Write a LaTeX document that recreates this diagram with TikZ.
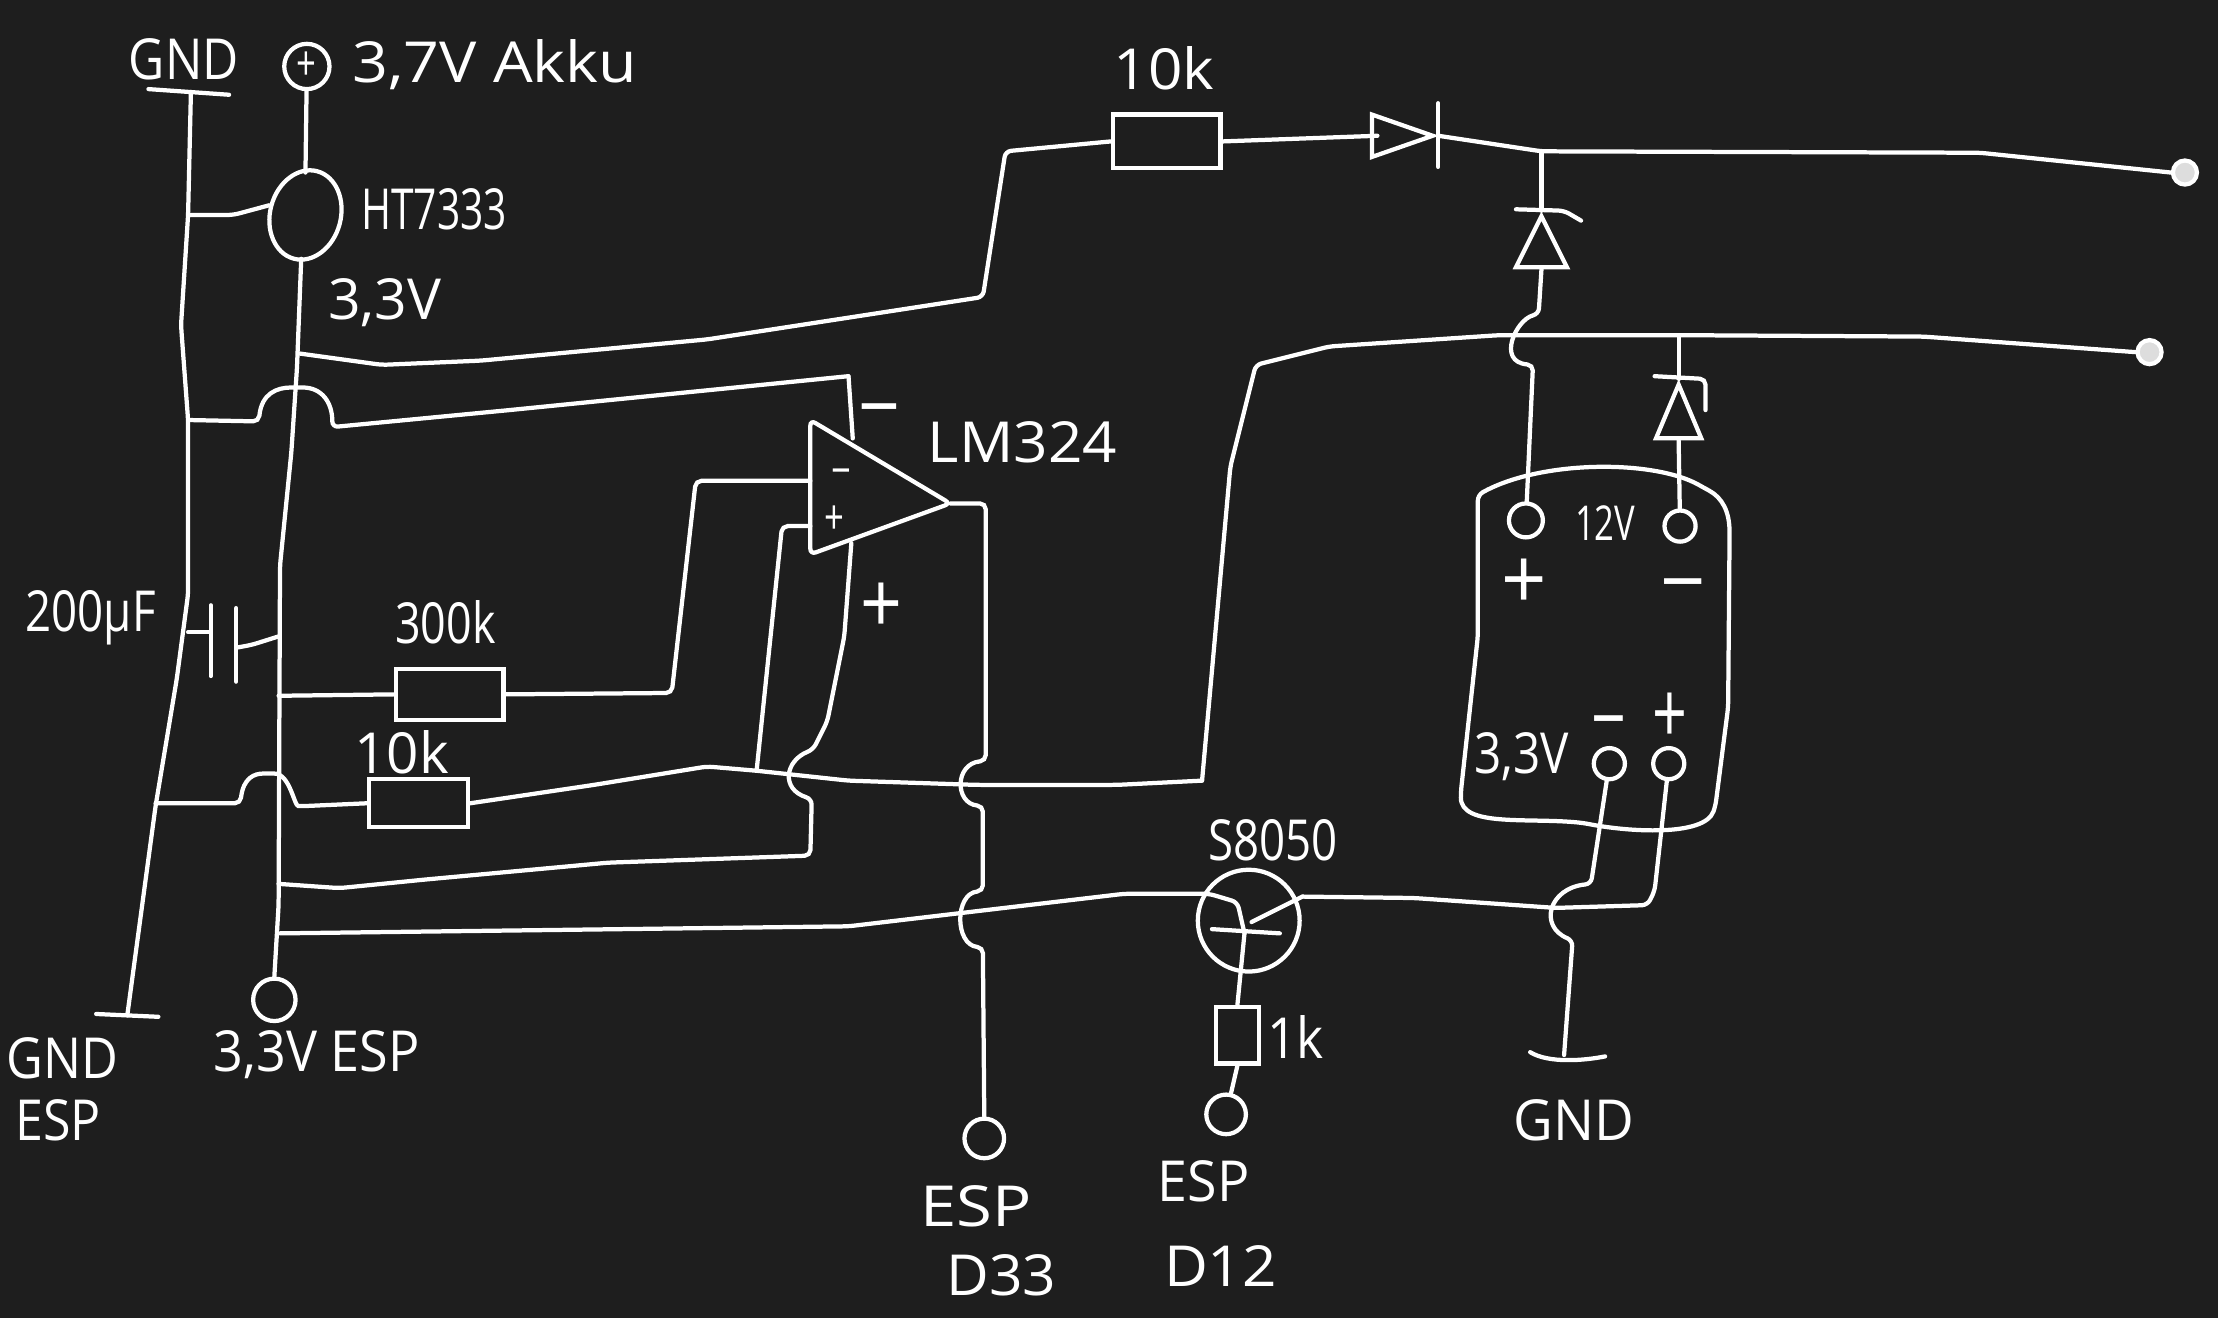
\documentclass[tikz,border=0pt]{standalone}
\usepackage{fontspec}
\setmainfont[FakeStretch=0.72]{Open Sans}
\usetikzlibrary{shapes}
\definecolor{board}{HTML}{1E1E1E}
\tikzset{
wire/.style={draw=white, line width=1.5pt, rounded corners=2pt, line cap=round},
term/.style={draw=white, line width=1.5pt, circle, inner sep=0, minimum size=#1},
dot/.style={draw=white, fill=white!85!board, line width=1.5pt, circle, inner sep=0, minimum size=8.5pt},
res/.style={draw=white, line width=1.5pt, rectangle, inner sep=0, minimum width=#1},
tri/.style={draw=white, line width=1.5pt, isosceles triangle, isosceles triangle stretches, inner sep=0, anchor=apex},
lbl/.style={text=white, inner sep=0, font=\fontsize{20}{22}\selectfont},
sml/.style={text=white, inner sep=0, font=\fontsize{17}{19}\selectfont},
sgn/.style={text=white, inner sep=0, font=\fontsize{30}{32}\selectfont},
wd/.style={transform shape, xscale=#1}
}

\begin{document}
\begin{tikzpicture}[x=0.5pt, y=-0.5pt]
	\useasboundingbox[fill=board] (0,0) rectangle (1568.4,932);
	% parts
	\node[term=16pt] (batt) at (217,47) {};
	\node[draw=white, line width=1.5pt, ellipse, rotate=-15, inner sep=0, minimum width=25pt, minimum height=32pt] (reg) at (216,152) {};
	\node[term=15pt] (espvcc) at (194,707) {};
	\node[res=38pt, minimum height=19pt] (rtop) at (825,100) {};
	\node[res=38pt, minimum height=18pt] (rhigh) at (318,491) {};
	\node[res=35pt, minimum height=17pt] (rlow) at (296,568) {};
	\node[res=15pt, minimum height=20pt] (rbase) at (875,732) {};
	\node[tri, minimum width=15pt, minimum height=21.5pt] (dser) at (1017,96) {};
	\node[tri, rotate=90, minimum width=18pt, minimum height=18pt] (zup) at (1090,149) {};
	\node[tri, rotate=90, minimum width=16pt, minimum height=19pt] (zlow) at (1187,268) {};
	\node[dot] (outa) at (1545,122) {};
	\node[dot] (outb) at (1520,249) {};
	\node[term=12pt] (inp) at (1079,368) {};
	\node[term=11pt] (inn) at (1188,372) {};
	\node[term=11pt] (outn) at (1138,540) {};
	\node[term=11pt] (outp) at (1180,540) {};
	\node[draw=white, line width=1.5pt, circle, inner sep=0, minimum size=36pt] (npn) at (883,651) {};
	\node[term=14pt] (espadc) at (696,805) {};
	\node[term=14pt] (espgate) at (867,788) {};
	% fixed points
	\coordinate (gndtop) at (135,65);
	\coordinate (gndbot) at (90,718);
	\coordinate (gndright) at (1106,746);
	\coordinate (railg) at (133,152);
	\coordinate (railp) at (133,297);
	\coordinate (railt) at (198,660);
	\coordinate (regin) at (216,122);
	\coordinate (regout) at (213,183);
	\coordinate (capl) at (149,447);
	\coordinate (capr) at (167,458);
	\coordinate (base) at (880,660);
	\coordinate (nodeA) at (535,545);
	\coordinate (vsup) at (600,266);
	\coordinate (vgnd) at (602,384);
	\coordinate (joinA) at (1090,107);
	\coordinate (joinB) at (1187,237);
	\coordinate (lineB) at (850,552);
	\coordinate (npnC) at (921,634);
	\coordinate (ampa) at (573,297);
	\coordinate (ampb) at (573,392);
	\coordinate (ampc) at (672,356);
	% rails
	\draw[wire] (105,63) -- (162,67);
	\draw[wire] (68,717) -- (112,719);
	\draw[wire] (1082,744) .. controls (1095,752) and (1120,750) .. (1135,747);
	\draw[wire] (gndtop) -- (railg) -- (128,230) -- (railp) -- (133,420) -- (125,480) -- (110,570) -- (gndbot);
	\draw[wire] (railg) -- (165,152) -- (reg.west);
	\draw[wire] (batt) -- (regin);
	\draw[wire] (regout) -- (210,260) -- (206,320) -- (198,400) -- (197,640) -- (espvcc.north);
	% capacitor
	\draw[wire] (133,447) -- (capl);
	\draw[wire] (149,428) -- (149,478);
	\draw[wire] (167,430) -- (167,482);
	\draw[wire] (capr) -- (178,456) -- (197,450);
	% regulator output to the charge line
	\draw[wire] (212,250) -- (270,258) -- (340,255) -- (500,240) -- (695,210) -- (711,107) -- (rtop.west);
	\draw[wire] (rtop.east) -- (974,96);
	\draw[wire] (1017,73) -- (1017,118);
	\draw[wire] (dser.apex) -- (joinA) -- (1400,108) -- (outa.west);
	\draw[wire] (joinA) -- (zup.apex);
	\draw[wire] (1072,148) -- (1106,149) -- (1118,156);
	\draw[wire] (zup.west) -- (1088,222) .. controls (1072,226) and (1058,256) .. (1084,258) -- (inp);
	% second line
	\draw[wire] (lineB) -- (870,330) -- (888,258) -- (940,245) -- (1060,237) -- (joinB) -- (1360,238) -- (outb.west);
	\draw[wire] (joinB) -- (zlow.apex);
	\draw[wire] (1170,266) -- (1206,268) -- (1206,290);
	\draw[wire] (zlow.west) -- (inn);
	% module
	\draw[wire] (1045,350) .. controls (1090,325) and (1170,325) .. (1205,345) .. controls (1218,352) and (1223,362) .. (1223,380) -- (1222,500) -- (1213,570) .. controls (1205,592) and (1150,588) .. (1120,582) .. controls (1080,578) and (1033,585) .. (1033,560) -- (1045,450) -- cycle;
	% opamp
	\draw[wire] (ampa) -- (ampb) -- (ampc) -- cycle;
	\draw[wire] (railp) -- (183,298) .. controls (185,278) and (196,274) .. (210,274) .. controls (228,274) and (235,285) .. (235,302) -- (360,290) -- (vsup);
	\draw[wire] (vsup) -- (603,310);
	\draw[wire] (vgnd) -- (597,450) -- (585,510) -- (575,530) .. controls (555,538) and (552,558) .. (574,565) -- (573,605) -- (430,610) -- (300,622) -- (240,628) -- (197,625);
	% opamp inputs
	\draw[wire] (197,492) -- (rhigh.west);
	\draw[wire] (rhigh.east) -- (475,490) -- (492,340) -- (573,340);
	\draw[wire] (110,568) -- (170,568) .. controls (172,550) and (180,547) .. (190,547) .. controls (205,547) and (208,570) .. (215,570) -- (rlow.west);
	\draw[wire] (rlow.east) -- (420,555) -- (500,542) -- (nodeA) -- (600,552) -- (690,555) -- (790,555) -- (lineB);
	\draw[wire] (nodeA) -- (553,372) -- (573,372);
	% opamp output
	\draw[wire] (ampc) -- (697,356) -- (697,538) .. controls (675,540) and (675,568) .. (695,570) -- (695,630) .. controls (675,632) and (675,668) .. (695,670) -- (espadc.north);
	% transistor
	\draw[wire] (railt) -- (440,657) -- (600,655) -- (795,632) -- (855,632) -- (875,638) -- (base);
	\draw[wire] (857,657) -- (905,660);
	\draw[wire] (885,652) -- (npnC);
	\draw[wire] (npnC) -- (1000,635) -- (1100,642) -- (1165,640) -- (1170,630) -- (outp);
	\draw[wire] (base) -- (rbase.north);
	\draw[wire] (rbase.south) -- (espgate);
	\draw[wire] (outn) -- (1125,625) .. controls (1095,628) and (1088,655) .. (1112,665) -- (gndright);
	% labels
	\node[lbl, wd=1.22] (tgnda) at (130,42) {GND};
	\node[lbl, wd=1.54] (takku) at (350,46) {3,7V Akku};
	\node[lbl] (treg) at (307,148) {HT7333};
	\node[lbl, wd=1.4] (tvreg) at (272,214) {3,3V};
	\node[lbl, wd=1.48] (trtop) at (823,48) {10k};
	\node[lbl, wd=1.48] (topn) at (723,313) {LM324};
	\node[lbl, wd=1.12] (tcap) at (64,437) {200µF};
	\node[lbl, wd=1.1] (trhigh) at (315,440) {300k};
	\node[lbl, wd=1.39] (trlow) at (284,532) {10k};
	\node[lbl, wd=1.24] (tgndb) at (44,748) {GND};
	\node[lbl, wd=1.23] (tespb) at (41,792) {ESP};
	\node[lbl, wd=1.28] (tvesp) at (224,746) {3,3V ESP};
	\node[lbl, wd=1.6] (tespa) at (690,853) {ESP};
	\node[lbl, wd=1.44] (td33) at (708,902) {D33};
	\node[lbl, wd=1.32] (tespg) at (851,835) {ESP};
	\node[lbl, wd=1.48] (td12) at (863,895) {D12};
	\node[lbl, wd=1.34] (tgndc) at (1113,792) {GND};
	\node[lbl, wd=1.12] (tnpn) at (900,594) {S8050};
	\node[lbl, wd=1.27] (trbase) at (916,733) {1k};
	\node[sml] (t12) at (1135,370) {12V};
	\node[lbl, wd=1.17] (tmv) at (1076,535) {3,3V};
	\node[sgn, wd=1.2] (tsupm) at (622,297) {−};
	\node[sgn, wd=1.2] (tsupp) at (623,430) {+};
	\node[sml] (tinm) at (595,338) {−};
	\node[sml] (tinp) at (590,368) {+};
	\node[sgn, wd=1.3] (tmodp) at (1078,413) {+};
	\node[sgn, wd=1.3] (tmodm) at (1190,421) {−};
	\node[sgn] (toutm) at (1138,518) {−};
	\node[sgn] (toutp) at (1181,508) {+};
	\node[sml] (tbatt) at (217,47) {+};
\end{tikzpicture}
\end{document}
